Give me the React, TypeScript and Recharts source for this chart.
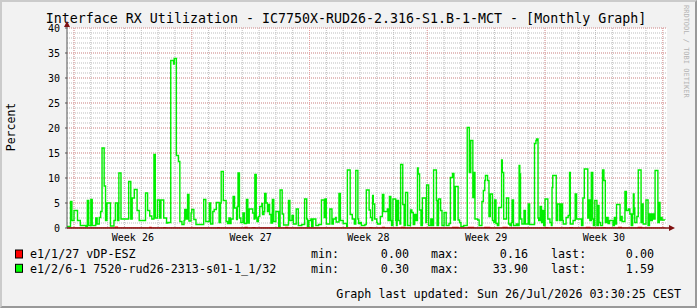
import React from "react";
import { CartesianGrid, Line, LineChart, XAxis, YAxis } from "recharts";

// hours since the left edge of the graph, and the RX % starting at that hour
const RX_HOURS = [
  0, 5, 7, 10, 15, 19, 27, 29, 31, 34, 36, 41, 43, 46, 48, 50, 53, 55, 57, 62, 67, 69, 72, 74, 77, 88, 91, 93, 96, 100,
  103, 112, 115, 118, 121, 124, 126, 129, 132, 134, 138, 142, 144, 148, 152, 153, 156, 159, 161, 164, 167, 168, 170,
  172, 174, 177, 178, 181, 184, 195, 198, 203, 205, 208, 210, 213, 217, 219, 220, 223, 227, 229, 231, 233, 234, 237,
  239, 242, 243, 244, 246, 248, 251, 253, 256, 258, 260, 265, 267, 268, 270, 271, 273, 275, 278, 279, 281, 282, 284,
  286, 287, 289, 291, 293, 295, 298, 302, 304, 307, 309, 316, 318, 321, 323, 327, 330, 335, 339, 342, 343, 345, 348,
  349, 351, 355, 359, 363, 367, 368, 370, 375, 378, 380, 383, 384, 388, 390, 394, 399, 400, 404, 407, 410, 412, 415,
  416, 418, 420, 425, 427, 431, 433, 435, 436, 437, 439, 442, 443, 447, 450, 452, 457, 458, 460, 462, 463, 465, 469,
  470, 471, 473, 475, 476, 479, 481, 483, 486, 490, 492, 494, 496, 498, 500, 501, 503, 505, 507, 512, 513, 516, 519,
  521, 523, 527, 528, 530, 533, 535, 538, 541, 545, 547, 550, 552, 554, 558, 560, 562, 566, 571, 574, 576, 579, 580,
  582, 586, 588, 592, 594, 596, 597, 600, 602, 604, 607, 609, 610, 612, 614, 616, 620, 621, 623, 627, 630, 632, 634,
  635, 637, 641, 643, 645, 646, 647, 649, 652, 654, 658, 660, 667, 669, 670, 672, 673, 675, 677, 678, 680, 682, 686,
  689, 691, 692, 693, 698, 700, 703, 705, 707, 708, 712, 715, 717, 718, 722, 725, 727, 734, 736, 738, 743, 744, 746,
  748, 750, 751, 753, 756, 758, 759, 761, 764, 766, 768, 770, 772, 774, 779, 781, 783, 784, 789, 790, 792, 796, 798,
  801, 803, 805, 807, 808, 809, 810, 813, 815, 819, 821, 822, 826, 829, 831, 833, 835, 837, 839, 843, 845, 846, 847,
  849, 853,
];
const RX_VALUES = [
  0.3, 5.3, 1.5, 3.5, 1.5, 0.5, 0.3, 5.5, 0.5, 5.7, 0.5, 2.0, 0.8, 2.1, 3.3, 16, 8.4, 1.5, 5, 0.4, 1.5, 5, 1.5, 11, 1.8,
  9.3, 1.8, 6, 7.7, 3.5, 1.5, 7, 3.5, 2.4, 1.8, 14.7, 2, 5.6, 2, 5.6, 2, 1, 1.1, 33.5, 32.8, 33.9, 14.5, 13.3, 1.3, 0.7,
  1.5, 3.7, 1.8, 6.7, 1.4, 3, 3.7, 1.7, 0.7, 5.7, 1.3, 5, 0.8, 3.3, 3.7, 5.1, 1.1, 5, 11.3, 5.5, 1.3, 0.9, 2, 0.9, 1.8,
  6.3, 4, 1.7, 4.3, 11, 2, 1.1, 3, 0.9, 5.7, 1, 3.8, 3, 1.8, 10.7, 2, 1.3, 2.3, 4.3, 4.9, 2.7, 3.3, 6.9, 5, 3.3, 4.7,
  2.7, 1, 5.7, 1.3, 3.3, 0.3, 7.6, 2.8, 0.6, 5.5, 1.5, 2.5, 0.8, 3.8, 0.5, 0.7, 5.8, 1.8, 0.3, 1.5, 1.8, 0.3, 1.8, 0.5,
  0.7, 5.6, 2.1, 5.8, 0.8, 3.8, 0.8, 1.8, 2.1, 1.2, 6.9, 1.5, 0.9, 0.3, 11.6, 2.7, 1.8, 0.8, 11.5, 1.8, 0.9, 1.1, 0.5,
  0.7, 7.6, 3.6, 2.1, 1.5, 6.5, 4.8, 1.8, 1.1, 0.8, 2.3, 6.7, 3.3, 3.8, 1.5, 6.3, 1.5, 0.5, 5.8, 1.5, 0.5, 5.5, 1.5,
  0.8, 12.7, 4.7, 0.5, 7.1, 0.5, 3.6, 3.1, 0.7, 2.7, 1.5, 12, 10.8, 3.6, 0.5, 6, 1.1, 8.6, 0.5, 1.8, 0.5, 11.6, 5.5,
  0.5, 5.8, 3.5, 0.5, 3.1, 0.5, 0.9, 10.1, 10.9, 1.6, 8.3, 1.6, 1.1, 0.3, 0.5, 20.1, 11.1, 17.5, 6.1, 11.1, 1.8, 1.6,
  0.5, 5.3, 7.5, 9.5, 10.5, 9.5, 2.3, 6.8, 1.5, 1.1, 5.6, 0.9, 0.5, 4.1, 13.6, 11.1, 1.8, 6, 0.8, 0.5, 1.1, 5.6, 0.5,
  0.8, 0.5, 12.5, 10.8, 1.8, 0.8, 3.5, 0.8, 4.8, 0.7, 16.9, 17.5, 17.8, 2, 1.5, 4.3, 1.1, 3.5, 0.5, 5.8, 1.8, 1.1, 0.5,
  8.1, 10.5, 1.5, 4.8, 1.5, 4.8, 1.5, 0.8, 2.1, 2.5, 11.1, 0.8, 1.5, 6.8, 1.8, 0.5, 6, 11.8, 2, 5.6, 1.5, 11.1, 1.8,
  0.5, 5.5, 0.5, 4.5, 1.1, 0.5, 11.6, 9.5, 1.1, 2.1, 0.9, 1.5, 0.5, 2.1, 0.8, 4.7, 1.5, 2.3, 1.3, 7.3, 3.5, 3.8, 2.8,
  0.5, 2.8, 6.8, 4, 1.1, 2.3, 11.6, 1.1, 4.8, 0.8, 5.6, 0.5, 2.8, 1.5, 2.8, 1.8, 11.5, 1.1, 5.1, 1.6, 2.1, 1.6, 1.59,
];

// the other interface: almost always zero, small blips
const VDP_HOURS = [
  0, 69, 72, 118, 120, 138, 141, 215, 217, 254, 257, 265, 268, 312, 315, 432, 435, 450, 453, 477, 482, 550, 558, 573,
  580, 596, 603, 622, 628, 683, 686, 717, 721, 741, 746, 765, 768, 787, 791, 815, 820, 853,
];
const VDP_VALUES = [
  0, 0.16, 0, 0.12, 0, 0.1, 0, 0.1, 0, 0.12, 0, 0.1, 0, 0.12, 0, 0.1, 0, 0.12, 0, 0.14, 0, 0.12, 0, 0.14, 0, 0.12, 0,
  0.12, 0, 0.1, 0, 0.1, 0, 0.12, 0, 0.1, 0, 0.12, 0, 0.12, 0, 0,
];

const WEEK_LABELS = ["Week 26", "Week 27", "Week 28", "Week 29", "Week 30"];
const WEEK_MIDS = [94, 262, 430, 598, 766];
const WEEK_STARTS = [10, 178, 346, 514, 682, 850];
const DAY_STARTS = Array.from({ length: 36 }, (_, k) => 10 + 24 * k);
const Y_TICKS = [0, 5, 10, 15, 20, 25, 30, 35, 40];
const Y_MINOR = Array.from({ length: 41 }, (_, k) => k);

const LEGEND = [
  { name: "e1/1/27 vDP-ESZ", color: "#ff0000", min: "0.00", max: "0.16", last: "0.00" },
  { name: "e1/2/6-1 7520-rud26-2313-s01-1_1/32", color: "#00ff00", min: "0.30", max: "33.90", last: "1.59" },
];

const MONO = "'DejaVu Sans Mono', monospace";
const AXIS_TICK = { fontSize: 10, fontFamily: MONO, fill: "#000" };

const rx = RX_HOURS.map((t, i) => ({ t, v: RX_VALUES[i] }));
const vdp = VDP_HOURS.map((t, i) => ({ t, v: VDP_VALUES[i] }));

export default function App() {
  return (
    <div
      style={{
        position: "absolute",
        left: 0,
        top: 0,
        width: 697,
        height: 308,
        boxSizing: "border-box",
        background: "#f2f2f2",
        borderTop: "2px solid #cbcbcb",
        borderLeft: "2px solid #cbcbcb",
        borderRight: "2px solid #999",
        borderBottom: "2px solid #999",
      }}
    >
      <div style={{ position: "absolute", left: -2, top: -2 }}>
        <LineChart width={697} height={308} margin={{ top: 28, right: 30, bottom: 60, left: 27 }}>
          <CartesianGrid
            stroke="#bdbdbd"
            strokeDasharray="1 1"
            fill="#fff"
            fillOpacity={1}
            verticalValues={DAY_STARTS}
            horizontalValues={Y_MINOR}
          />
          <CartesianGrid
            stroke="#eaa0a0"
            strokeDasharray="1 1"
            verticalValues={WEEK_STARTS}
            horizontalValues={Y_TICKS}
          />
          <XAxis
            dataKey="t"
            type="number"
            domain={[0, 856]}
            ticks={WEEK_MIDS}
            tickFormatter={(h) => WEEK_LABELS[WEEK_MIDS.indexOf(h)] ?? ""}
            height={20}
            tick={AXIS_TICK}
            tickLine={false}
            tickSize={3}
            tickMargin={3}
            interval={0}
            axisLine={{ stroke: "#7f1010", strokeWidth: 1.5 }}
            allowDataOverflow
          />
          <YAxis
            type="number"
            domain={[0, 40]}
            ticks={Y_TICKS}
            width={40}
            tick={AXIS_TICK}
            tickSize={2}
            tickMargin={5}
            interval={0}
            tickLine={{ stroke: "#555" }}
            axisLine={{ stroke: "#555" }}
            allowDataOverflow
          />
          <Line
            data={vdp}
            dataKey="v"
            type="stepAfter"
            stroke="#ff0000"
            strokeWidth={1.2}
            dot={false}
            isAnimationActive={false}
          />
          <Line
            data={rx}
            dataKey="v"
            type="stepAfter"
            stroke="#00ee00"
            strokeWidth={1.4}
            dot={false}
            isAnimationActive={false}
          />
        </LineChart>
      </div>
      <svg
        width={697}
        height={308}
        style={{ position: "absolute", left: -2, top: -2, pointerEvents: "none" }}
        fontFamily={MONO}
      >
        <text x={346} y={23} fontSize={13.3} textAnchor="middle" fill="#000">
          Interface RX Utilization - IC7750X-RUD26-2.316-S1.B-1-MCT - [Monthly Graph]
        </text>
        <text x={15} y={127} fontSize={11.5} textAnchor="middle" transform="rotate(-90 15 127)" fill="#000">
          Percent
        </text>
        <text x={684} y={5} fontSize={7} fill="#b4b4b4" transform="rotate(90 684 5)">
          RRDTOOL / TOBI OETIKER
        </text>
        <line x1={67} y1={28} x2={67} y2={22} stroke="#555" />
        <polygon points="64,27 70,27 67,21" fill="#7f1010" />
        <line x1={667} y1={228} x2={670} y2={228} stroke="#7f1010" strokeWidth={1.5} />
        <polygon points="669,225 669,231 675,228" fill="#7f1010" />
        {LEGEND.map((l, i) => {
          const y = 258.3 + i * 14.3;
          return (
            <g key={l.name} fontSize={11.7} fill="#000">
              <rect x={15.5} y={y - 8.3} width={7} height={8} fill={l.color} stroke="#000" strokeWidth={1} />
              <text x={30} y={y}>{l.name}</text>
              <text x={311} y={y}>min:</text>
              <text x={409} y={y} textAnchor="end">{l.min}</text>
              <text x={431} y={y}>max:</text>
              <text x={528} y={y} textAnchor="end">{l.max}</text>
              <text x={551} y={y}>last:</text>
              <text x={654} y={y} textAnchor="end">{l.last}</text>
            </g>
          );
        })}
        <text x={681} y={298.3} fontSize={11.7} textAnchor="end" fill="#000">
          Graph last updated: Sun 26/Jul/2026 03:30:25 CEST
        </text>
      </svg>
    </div>
  );
}
